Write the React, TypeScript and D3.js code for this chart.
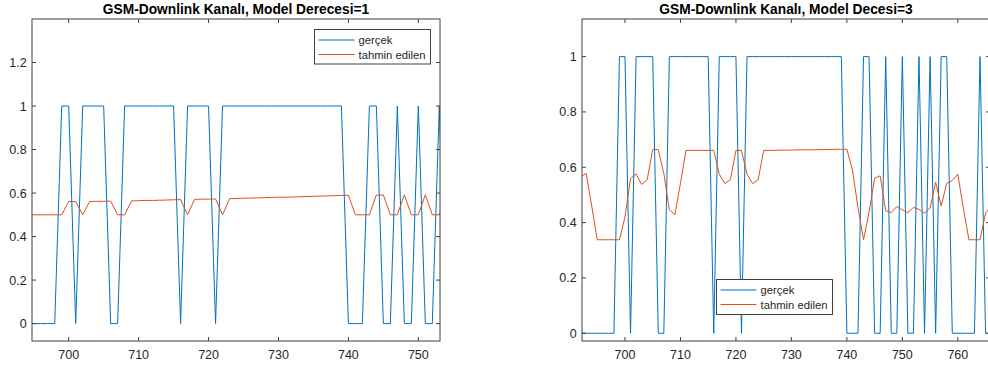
import React from 'react';
import * as d3 from 'd3';

// Time steps shared by both panels
const steps = [
  692, 693, 694, 695, 696, 697, 698, 699, 700, 701,
  702, 703, 704, 705, 706, 707, 708, 709, 710, 711,
  712, 713, 714, 715, 716, 717, 718, 719, 720, 721,
  722, 723, 724, 725, 726, 727, 728, 729, 730, 731,
  732, 733, 734, 735, 736, 737, 738, 739, 740, 741,
  742, 743, 744, 745, 746, 747, 748, 749, 750, 751,
  752, 753, 754, 755, 756, 757, 758, 759, 760, 761,
  762, 763, 764, 765, 766,
];

// Actual channel occupancy (gerçek)
const actual = [
  0, 0, 0, 0, 0, 0, 0, 1, 1, 0,
  1, 1, 1, 1, 0, 0, 1, 1, 1, 1,
  1, 1, 1, 1, 0, 1, 1, 1, 1, 0,
  1, 1, 1, 1, 1, 1, 1, 1, 1, 1,
  1, 1, 1, 1, 1, 1, 1, 1, 0, 0,
  0, 1, 1, 0, 0, 1, 0, 0, 1, 0,
  0, 1, 0, 1, 0, 1, 1, 0, 0, 0,
  0, 0, 1, 0, 0,
];

// Predicted values, model order 1 (steps 692..754)
const predictedOrder1 = [
  0.5, 0.5, 0.5, 0.5, 0.5, 0.5, 0.5, 0.5,
  0.561, 0.561, 0.5, 0.561, 0.562, 0.562, 0.563, 0.5, 0.5, 0.564,
  0.565, 0.566, 0.566, 0.567, 0.568, 0.569, 0.57, 0.5, 0.571, 0.572,
  0.572, 0.573, 0.5, 0.574, 0.575, 0.576, 0.577, 0.578, 0.579, 0.58,
  0.581, 0.581, 0.582, 0.583, 0.584, 0.585, 0.586, 0.587, 0.588, 0.589,
  0.59, 0.5, 0.5, 0.5, 0.591, 0.591, 0.5, 0.5, 0.592, 0.5,
  0.5, 0.592, 0.5, 0.5, 0.592,
];

// Predicted values, model order 3 (steps 692..766)
const predictedOrder3 = [
  0.565, 0.578, 0.46, 0.338, 0.338, 0.338, 0.338, 0.338, 0.421, 0.559,
  0.576, 0.538, 0.555, 0.664, 0.664, 0.578, 0.446, 0.429, 0.542, 0.661,
  0.661, 0.661, 0.661, 0.661, 0.661, 0.575, 0.541, 0.555, 0.661, 0.661,
  0.575, 0.541, 0.555, 0.661, 0.661, 0.661, 0.662, 0.662, 0.662, 0.663,
  0.663, 0.663, 0.663, 0.664, 0.664, 0.664, 0.665, 0.665, 0.665, 0.59,
  0.455, 0.338, 0.438, 0.56, 0.569, 0.443, 0.436, 0.458, 0.446, 0.436,
  0.455, 0.448, 0.434, 0.452, 0.546, 0.46, 0.542, 0.552, 0.575, 0.452,
  0.338, 0.338, 0.338, 0.434, 0.46,
];

const leftXTicks = [700, 710, 720, 730, 740, 750];
const leftYTicks = [0, 0.2, 0.4, 0.6, 0.8, 1, 1.2];
const rightXTicks = [700, 710, 720, 730, 740, 750, 760];
const rightYTicks = [0, 0.2, 0.4, 0.6, 0.8, 1];

const legendLabels = ['gerçek', 'tahmin edilen'];
const BLUE = '#0072BD';
const ORANGE = '#D95319';
const AXIS = '#404040';
const TEXT = '#262626';
const FONT = '"Liberation Sans", Arial, Helvetica, sans-serif';

type PanelProps = {
  id: string;
  title: string;
  x0: number;
  x1: number;
  y0: number;
  y1: number;
  xDomain: [number, number];
  yDomain: [number, number];
  xTicks: number[];
  yTicks: number[];
  predicted: number[];
  legend: { x: number; y: number; w: number; h: number };
};

function Panel(p: PanelProps) {
  const x = d3.scaleLinear().domain(p.xDomain).range([p.x0, p.x1]);
  const y = d3.scaleLinear().domain(p.yDomain).range([p.y1, p.y0]);
  const line = d3
    .line<[number, number]>()
    .x((d) => x(d[0]))
    .y((d) => y(d[1]));
  const actualPts: [number, number][] = steps.map((s, i) => [s, actual[i]]);
  const predPts: [number, number][] = p.predicted.map((v, i) => [steps[i], v]);
  const tl = 4;
  const fmt = (v: number) => String(+v.toFixed(1));
  const lg = p.legend;
  return (
    <g>
      <defs>
        <clipPath id={p.id}>
          <rect x={p.x0} y={p.y0} width={p.x1 - p.x0} height={p.y1 - p.y0} />
        </clipPath>
      </defs>
      <rect x={p.x0} y={p.y0} width={p.x1 - p.x0} height={p.y1 - p.y0} fill="#fff" />
      <g clipPath={`url(#${p.id})`} fill="none" strokeWidth={1}>
        <path d={line(actualPts) || ''} stroke={BLUE} />
        <path d={line(predPts) || ''} stroke={ORANGE} />
      </g>
      {/* box and ticks */}
      <rect
        x={p.x0}
        y={p.y0}
        width={p.x1 - p.x0}
        height={p.y1 - p.y0}
        fill="none"
        stroke={AXIS}
        strokeWidth={1}
      />
      {p.xTicks.map((t) => (
        <g key={'x' + t}>
          <line x1={x(t)} x2={x(t)} y1={p.y1} y2={p.y1 - tl} stroke={AXIS} />
          <line x1={x(t)} x2={x(t)} y1={p.y0} y2={p.y0 + tl} stroke={AXIS} />
          <text
            x={x(t)}
            y={p.y1 + 18.3}
            textAnchor="middle"
            fontSize={12.5}
            fontFamily={FONT}
            fill={TEXT}
          >
            {t}
          </text>
        </g>
      ))}
      {p.yTicks.map((t) => (
        <g key={'y' + t}>
          <line x1={p.x0} x2={p.x0 + tl} y1={y(t)} y2={y(t)} stroke={AXIS} />
          <line x1={p.x1} x2={p.x1 - tl} y1={y(t)} y2={y(t)} stroke={AXIS} />
          <text
            x={p.x0 - 5.3}
            y={y(t)}
            dy="0.36em"
            textAnchor="end"
            fontSize={12.5}
            fontFamily={FONT}
            fill={TEXT}
          >
            {fmt(t)}
          </text>
        </g>
      ))}
      <text
        x={(p.x0 + p.x1) / 2}
        y={p.y0 - 5}
        textAnchor="middle"
        fontSize={13.75}
        fontWeight="bold"
        fontFamily={FONT}
        fill="#000"
      >
        {p.title}
      </text>
      {/* legend */}
      <rect x={lg.x} y={lg.y} width={lg.w} height={lg.h} fill="#fff" stroke={AXIS} strokeWidth={1} />
      {legendLabels.map((lab, i) => {
        const ly = lg.y + 10.5 + i * 14.5;
        return (
          <g key={lab}>
            <line x1={lg.x + 4} x2={lg.x + 40} y1={ly} y2={ly} stroke={i === 0 ? BLUE : ORANGE} strokeWidth={1} />
            <text x={lg.x + 44} y={ly} dy="0.36em" fontSize={11.25} fontFamily={FONT} fill={TEXT}>
              {lab}
            </text>
          </g>
        );
      })}
    </g>
  );
}

export default function App() {
  return (
    <svg
      width={988}
      height={372}
      style={{ position: 'absolute', left: 0, top: 0, background: '#fff' }}
    >
      <rect width={988} height={372} fill="#fff" />
      <Panel
        id="clip-left"
        title="GSM-Downlink Kanalı, Model Derecesi=1"
        x0={32}
        x1={440}
        y0={19}
        y1={341}
        xDomain={[694.75, 753.1]}
        yDomain={[-0.08, 1.4]}
        xTicks={leftXTicks}
        yTicks={leftYTicks}
        predicted={predictedOrder1}
        legend={{ x: 314.5, y: 29.5, w: 116, h: 34.5 }}
      />
      <Panel
        id="clip-right"
        title="GSM-Downlink Kanalı, Model Decesi=3"
        x0={582}
        x1={990}
        y0={19}
        y1={341}
        xDomain={[692.25, 765.8]}
        yDomain={[-0.028, 1.136]}
        xTicks={rightXTicks}
        yTicks={rightYTicks}
        predicted={predictedOrder3}
        legend={{ x: 716.5, y: 279.5, w: 116, h: 35 }}
      />
    </svg>
  );
}
